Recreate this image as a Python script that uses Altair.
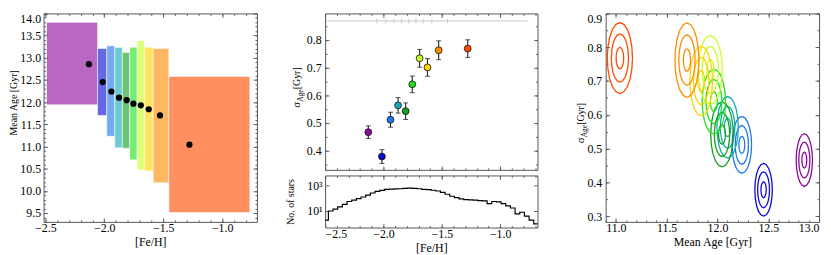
import altair as alt
import numpy as np
import pandas as pd

# ---------------- data ----------------
GROUPS = [f"bin{i + 1}" for i in range(10)]
PALETTE = ["#8c0a9e", "#0a0ad2", "#1e78e6", "#14aab4", "#14a01e",
           "#1ee11e", "#c8ff28", "#ffd200", "#ff8c00", "#ff4a00"]

FEH_EDGES = [-2.49, -2.057, -1.979, -1.911, -1.847, -1.784, -1.721, -1.66, -1.585, -1.452, -0.765]
FEH_MEAN = [-2.13, -2.013, -1.94, -1.875, -1.81, -1.753, -1.69, -1.623, -1.527, -1.278]
AGE_MEAN = [12.855, 12.454, 12.24, 12.10, 12.045, 11.965, 11.93, 11.84, 11.70, 11.04]
AGE_LO = [11.94, 11.70, 11.23, 10.97, 10.96, 10.70, 10.47, 10.45, 10.18, 9.51]
AGE_HI = [13.80, 13.21, 13.27, 13.23, 13.12, 13.24, 13.39, 13.24, 13.21, 12.58]
SIG_AGE = [0.466, 0.378, 0.511, 0.563, 0.542, 0.639, 0.733, 0.700, 0.762, 0.768]
SIG_ERR = [0.023, 0.025, 0.027, 0.028, 0.030, 0.030, 0.032, 0.032, 0.034, 0.032]

# outer-contour half extents (Mean Age, sigma_Age) and contour levels
CONT_W = [0.080, 0.086, 0.096, 0.105, 0.111, 0.115, 0.118, 0.111, 0.118, 0.124]
CONT_H = [0.078, 0.078, 0.084, 0.091, 0.096, 0.096, 0.102, 0.103, 0.110, 0.105]
CONT_LEVELS = [0.3, 0.68, 1.0]

HIST_START = -2.512
HIST_WIDTH = 0.04
HIST_COUNTS = [2, 10, 14, 21, 32, 54, 68, 89, 120, 170, 245, 330, 390, 470, 490, 500,
               520, 550, 590, 560, 520, 470, 440, 400, 350, 277, 195, 137, 108, 85, 76,
               71, 68, 63, 60, 37, 54, 50, 37, 25, 17, 6, 8, 4, 2, 1, 1]

GRAY_LINE_Y = 0.868

# ---------------- style ----------------
FONT = "Liberation Serif"
FRAME = "#555555"
MAJ_T, MIN_T = 4, 2

df = pd.DataFrame(dict(grp=GROUPS, feh_lo=FEH_EDGES[:-1], feh_hi=FEH_EDGES[1:],
                       feh=FEH_MEAN, age=AGE_MEAN, age_lo=AGE_LO, age_hi=AGE_HI,
                       sig=SIG_AGE, err=SIG_ERR))
df["slo"] = df["sig"] - df["err"]
df["shi"] = df["sig"] + df["err"]
df["idx"] = range(len(df))

cscale = alt.Scale(domain=GROUPS, range=PALETTE)


def seq(a, b, step):
    n = int(round((b - a) / step))
    return [round(a + i * step, 4) for i in range(n + 1)]


def sc(dom, typ="linear"):
    return alt.Scale(domain=dom, type=typ, nice=False, zero=False)


def axis(orient, values, size, labels=False, title=None, label_pad=3, title_pad=2,
         title_size=10, fmt=None, expr=None, flush=False, title_y=None):
    kw = dict(orient=orient, values=values, offset=-size, tickSize=size, tickColor=FRAME,
              tickWidth=0.9, domain=False, grid=False, labels=labels, title=title,
              minExtent=0)
    if labels:
        kw.update(labelFont=FONT, labelFontSize=12, labelColor="black",
                  labelPadding=label_pad, labelOverlap=False)
        if fmt:
            kw["format"] = fmt
        if expr:
            kw["labelExpr"] = expr
        if flush:
            kw["labelFlush"] = True
    if title:
        kw.update(titleFont=FONT, titleFontSize=title_size, titleFontWeight="normal",
                  titleColor="black", titlePadding=title_pad)
        if title_y is not None:
            kw["titleY"] = title_y
    return alt.Axis(**kw)


def frame_layers(xs, ys, xdom, ydom, xmaj, xmin, ymaj, ymin, bottom=None, left=None):
    d = pd.DataFrame({"fx": [xdom[1]], "fy": [ydom[1]]})
    base = alt.Chart(d).mark_point(opacity=0)
    b = bottom or {}
    l = left or {}
    L1 = base.encode(
        x=alt.X("fx:Q", scale=xs, axis=axis("bottom", xmaj, MAJ_T, labels=bottom is not None, **b)),
        y=alt.Y("fy:Q", scale=ys, axis=axis("left", ymaj, MAJ_T, labels=left is not None, **l)))
    L2 = base.encode(
        x=alt.X("fx:Q", scale=xs, axis=axis("bottom", xmin, MIN_T)),
        y=alt.Y("fy:Q", scale=ys, axis=axis("left", ymin, MIN_T)))
    L3 = base.encode(
        x=alt.X("fx:Q", scale=xs, axis=axis("top", xmaj, MAJ_T)),
        y=alt.Y("fy:Q", scale=ys, axis=axis("right", ymaj, MAJ_T)))
    L4 = base.encode(
        x=alt.X("fx:Q", scale=xs, axis=axis("top", xmin, MIN_T)),
        y=alt.Y("fy:Q", scale=ys, axis=axis("right", ymin, MIN_T)))
    return [L1, L2, L3, L4]


def sigma_title(y0, x0):
    one = pd.DataFrame({"a": [0]})
    t1 = alt.Chart(one).mark_text(text="σ", angle=270, align="left", baseline="alphabetic",
                                  font=FONT, fontSize=11, color="black").encode(
        x=alt.value(x0), y=alt.value(y0))
    t2 = alt.Chart(one).mark_text(text="Age", angle=270, align="left", baseline="alphabetic",
                                  font=FONT, fontSize=7.5, color="black").encode(
        x=alt.value(x0 + 3), y=alt.value(y0 - 6.2))
    t3 = alt.Chart(one).mark_text(text=" [Gyr]", angle=270, align="left", baseline="alphabetic",
                                  font=FONT, fontSize=10, color="black").encode(
        x=alt.value(x0), y=alt.value(y0 - 18.8))
    return [t1, t2, t3]


XB = dict(title="[Fe/H]", title_size=12, fmt=".1f", label_pad=1, title_pad=3)
H_FULL = 211
H_TOP = 158.3
H_HIST = H_FULL - H_TOP

# ---------------- left panel ----------------
LX, LY = [-2.515, -0.705], [9.3, 14.0]
lx, ly = sc(LX), sc(LY)
boxes = alt.Chart(df).mark_rect(fillOpacity=0.62, stroke="white", strokeOpacity=0.7,
                                strokeWidth=0.8).encode(
    x=alt.X("feh_lo:Q", scale=lx, axis=None), x2="feh_hi:Q",
    y=alt.Y("age_lo:Q", scale=ly, axis=None), y2="age_hi:Q",
    fill=alt.Fill("grp:N", scale=cscale, legend=None))
dots = alt.Chart(df).mark_circle(size=40, color="black", opacity=1).encode(
    x=alt.X("feh:Q", scale=lx, axis=None), y=alt.Y("age:Q", scale=ly, axis=None))
left = alt.layer(
    boxes, dots,
    *frame_layers(lx, ly, LX, LY, seq(-2.5, -1.0, 0.5), seq(-2.5, -0.8, 0.1),
                  seq(9.5, 14.0, 0.5), seq(9.4, 14.0, 0.1),
                  bottom=XB,
                  left=dict(title="Mean Age [Gyr]", title_size=10, fmt=".1f", label_pad=3,
                            title_pad=1, title_y=90, flush=True))
).resolve_axis(x="independent", y="independent").properties(width=216, height=H_FULL)

# ---------------- middle top panel ----------------
MX, MY = [-2.5, -0.68], [0.33, 0.895]
mx, my = sc(MX), sc(MY)
gray_seg = alt.Chart(df).mark_rule(color="#c8c8c8", strokeWidth=1).encode(
    x=alt.X("feh_lo:Q", scale=mx, axis=None), x2="feh_hi:Q",
    y=alt.YDatum(GRAY_LINE_Y, scale=my, axis=None))
gray_ticks = alt.Chart(df).transform_filter("datum.idx > 0").mark_tick(
    orient="vertical", color="#bbbbbb", size=5, thickness=1).encode(
    x=alt.X("feh_lo:Q", scale=mx, axis=None),
    y=alt.YDatum(GRAY_LINE_Y, scale=my, axis=None))
ebar = alt.Chart(df).mark_rule(color="#222222", strokeWidth=1.1).encode(
    x=alt.X("feh:Q", scale=mx, axis=None),
    y=alt.Y("slo:Q", scale=my, axis=None), y2="shi:Q")
cap_lo = alt.Chart(df).mark_tick(orient="horizontal", color="#222222", size=5, thickness=1.1).encode(
    x=alt.X("feh:Q", scale=mx, axis=None), y=alt.Y("slo:Q", scale=my, axis=None))
cap_hi = alt.Chart(df).mark_tick(orient="horizontal", color="#222222", size=5, thickness=1.1).encode(
    x=alt.X("feh:Q", scale=mx, axis=None), y=alt.Y("shi:Q", scale=my, axis=None))
pts = alt.Chart(df).mark_circle(size=48, stroke="#111111", strokeWidth=0.8, opacity=1).encode(
    x=alt.X("feh:Q", scale=mx, axis=None), y=alt.Y("sig:Q", scale=my, axis=None),
    fill=alt.Fill("grp:N", scale=cscale, legend=None))
mid_top = alt.layer(
    gray_seg, gray_ticks, ebar, cap_lo, cap_hi, pts, *sigma_title(95.5, -25),
    *frame_layers(mx, my, MX, MY, seq(-2.5, -1.0, 0.5), seq(-2.5, -0.7, 0.1),
                  seq(0.4, 0.8, 0.1), seq(0.35, 0.85, 0.05),
                  bottom=None, left=dict(fmt=".1f", label_pad=4))
).resolve_axis(x="independent", y="independent").properties(width=215, height=H_TOP)

# ---------------- middle histogram ----------------
HY = [0.53, 5500]
hy = sc(HY, "log")
nb = len(HIST_COUNTS)
hist_x = [round(HIST_START + i * HIST_WIDTH, 4) for i in range(nb + 1)]
hist_df = pd.DataFrame({"x": hist_x, "n": HIST_COUNTS + [HIST_COUNTS[-1]]})
hist_line = alt.Chart(hist_df).mark_line(interpolate="step-after", color="black",
                                         strokeWidth=1.2, clip=True).encode(
    x=alt.X("x:Q", scale=mx, axis=None), y=alt.Y("n:Q", scale=hy, axis=None))
hist = alt.layer(
    hist_line,
    *frame_layers(mx, hy, MX, HY, seq(-2.5, -1.0, 0.5), seq(-2.5, -0.7, 0.1),
                  [10, 1000], [],
                  bottom=XB,
                  left=dict(title="No. of stars", title_size=10, label_pad=3, title_pad=11,
                            expr="datum.value == 1000 ? '10³' : '10¹'"))
).resolve_axis(x="independent", y="independent").properties(width=215, height=H_HIST)

middle = alt.vconcat(mid_top, hist, spacing=0)

# ---------------- right panel ----------------
RX, RY = [10.9, 13.0], [0.283, 0.9]
rx, ry = sc(RX), sc(RY)
rows = []
theta = np.linspace(0, 2 * np.pi, 21)
for g in range(len(GROUPS)):
    for li, lev in enumerate(CONT_LEVELS):
        for k, t in enumerate(theta):
            rows.append(dict(grp=GROUPS[g], cid=f"{g}-{li}", k=k,
                             ma=AGE_MEAN[g] + lev * CONT_W[g] * np.cos(t),
                             sa=SIG_AGE[g] + lev * CONT_H[g] * np.sin(t)))
cont_df = pd.DataFrame(rows)
contours = alt.Chart(cont_df).mark_line(strokeWidth=1.3).encode(
    x=alt.X("ma:Q", scale=rx, axis=None), y=alt.Y("sa:Q", scale=ry, axis=None),
    detail="cid:N", order="k:Q",
    color=alt.Color("grp:N", scale=cscale, legend=None))
right = alt.layer(
    contours, *sigma_title(131.5, -22),
    *frame_layers(rx, ry, RX, RY, seq(11.0, 13.0, 0.5), seq(10.9, 13.0, 0.1),
                  seq(0.3, 0.9, 0.1), seq(0.3, 0.9, 0.05),
                  bottom=dict(title="Mean Age [Gyr]", title_size=12, fmt=".1f", label_pad=1,
                              title_pad=3, flush=True),
                  left=dict(fmt=".1f", label_pad=4, flush=True))
).resolve_axis(x="independent", y="independent").properties(width=216, height=H_FULL)

chart = alt.hconcat(alt.hconcat(left, middle, spacing=24), right, spacing=33).properties(
    padding={"left": 0, "top": 0, "right": 0, "bottom": 0}
).configure(font=FONT).configure_view(stroke=FRAME, strokeWidth=1)

chart.save("out.html", embed_options={"renderer": "svg", "actions": False})
